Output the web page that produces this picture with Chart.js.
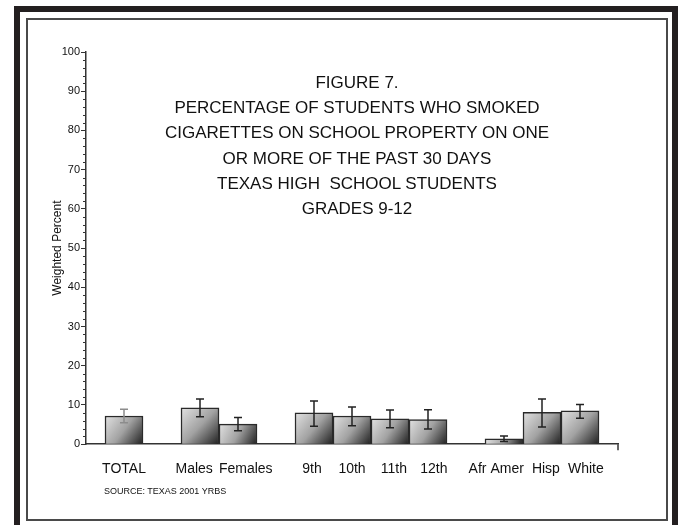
<!DOCTYPE html>
<html>
<head>
<meta charset="utf-8">
<script src="https://cdn.jsdelivr.net/npm/chart.js@4/dist/chart.umd.min.js"></script>
<style>
html,body{margin:0;padding:0;background:#fff;width:678px;height:525px;overflow:hidden;font-family:"Liberation Sans",Arial,sans-serif;}
#outer{position:absolute;left:14px;top:6px;width:652px;height:540px;border:6px solid #231f20;border-bottom:none;}
#inner{position:absolute;left:26px;top:18px;width:638px;height:499px;border:2px solid #4a4a4a;}
#chart{position:absolute;left:0;top:0;}
#title{position:absolute;left:157px;width:400px;top:70px;text-align:center;font-size:17px;line-height:25.2px;color:#111;}
#source{position:absolute;left:104px;top:485px;font-size:9px;line-height:12px;color:#111;}
</style>
</head>
<body>
<div id="outer"></div>
<div id="inner"></div>
<canvas id="chart" width="678" height="525"></canvas>
<div id="title"></div>
<div id="source"></div>
<script>
// ---- data ----
const titleLines = ["FIGURE 7.", "PERCENTAGE OF STUDENTS WHO SMOKED", "CIGARETTES ON SCHOOL PROPERTY ON ONE", "OR MORE OF THE PAST 30 DAYS", "TEXAS HIGH  SCHOOL STUDENTS", "GRADES 9-12"];
const sourceText = "SOURCE: TEXAS 2001 YRBS";
const yAxisTitle = "Weighted Percent";
const groups = [["TOTAL"], ["Males", "Females"], ["9th", "10th", "11th", "12th"], ["Afr Amer", "Hisp", "White"]];
const percent = [7.2, 9.3, 5.1, 8.0, 7.2, 6.5, 6.3, 1.4, 8.1, 8.5];
const ciLow   = [5.5, 7.0, 3.4, 4.6, 4.7, 4.2, 3.9, 0.7, 4.4, 6.6];
const ciHigh  = [8.9, 11.5, 6.8, 11.0, 9.5, 8.7, 8.8, 2.1, 11.5, 10.1];
const yTicks = [0, 10, 20, 30, 40, 50, 60, 70, 80, 90, 100];
const yMinorStep = 2;

document.getElementById('title').innerHTML = titleLines.map(t => t.replace(/  /g, ' &nbsp;')).join('<br>');
document.getElementById('source').textContent = sourceText;

// build slot table: a blank slot before, between and after groups
const labels = [], values = [], lows = [], highs = [];
let k = 0;
groups.forEach(g => {
  labels.push(''); values.push(null); lows.push(null); highs.push(null);
  g.forEach(name => {
    labels.push(name); values.push(percent[k]); lows.push(ciLow[k]); highs.push(ciHigh[k]); k++;
  });
});
labels.push(''); values.push(null); lows.push(null); highs.push(null);

const FONT = "'Liberation Sans', Arial, sans-serif";
const errColorFirst = '#8c8c8c', errColor = '#222';
// small horizontal nudges (px) of tick labels, as in the original layout
const labelNudge = { "Males": -5, "Females": 8, "9th": -2, "11th": 4, "12th": 6, "Afr Amer": -8, "Hisp": 4, "White": 6 };
function nudged(lbl) {
  const s = labelNudge[lbl];
  if (!s) return lbl;
  const n = Math.round(Math.abs(s) / 1.95);
  const pad = ' '.repeat(n);
  return s < 0 ? lbl + pad : pad + lbl;
}

function barFill(ctx) {
  const chart = ctx.chart;
  if (!chart.chartArea || !chart.scales.x || ctx.raw == null) return '#999';
  const xs = chart.scales.x, ys = chart.scales.y;
  const cx = xs.getPixelForValue(ctx.dataIndex);
  const half = 19;
  const top = ys.getPixelForValue(ctx.raw), bot = ys.getPixelForValue(0);
  const g = chart.ctx.createLinearGradient(cx - half, top, cx + half, bot);
  g.addColorStop(0, '#e2e2e2');
  g.addColorStop(0.5, '#a2a2a2');
  g.addColorStop(1, '#1e1e1e');
  return g;
}

const extras = {
  id: 'extras',
  afterDatasetsDraw(chart) {
    const c = chart.ctx, ys = chart.scales.y;
    const meta = chart.getDatasetMeta(0);
    c.save();
    c.lineWidth = 1.5;
    let first = true;
    meta.data.forEach((el, i) => {
      if (values[i] == null) return;
      const x = el.x;
      const yl = ys.getPixelForValue(lows[i]), yh = ys.getPixelForValue(highs[i]);
      c.strokeStyle = first ? errColorFirst : errColor;
      first = false;
      c.beginPath();
      c.moveTo(x, yl); c.lineTo(x, yh);
      c.moveTo(x - 4, yl); c.lineTo(x + 4, yl);
      c.moveTo(x - 4, yh); c.lineTo(x + 4, yh);
      c.stroke();
    });
    c.restore();
  },
  afterDraw(chart) {
    const c = chart.ctx, ys = chart.scales.y, a = chart.chartArea;
    c.save();
    c.strokeStyle = '#333';
    c.lineWidth = 1;
    for (let v = ys.min; v <= ys.max; v += yMinorStep) {
      if (yTicks.includes(v)) continue;
      const y = Math.round(ys.getPixelForValue(v)) + 0.5;
      c.beginPath(); c.moveTo(a.left - 3, y); c.lineTo(a.left, y); c.stroke();
    }
    c.lineWidth = 1.5;
    c.beginPath(); c.moveTo(a.right, a.bottom); c.lineTo(a.right, a.bottom + 6); c.stroke();
    c.restore();
  }
};

new Chart(document.getElementById('chart'), {
  type: 'bar',
  data: {
    labels: labels,
    datasets: [{
      data: values,
      backgroundColor: barFill,
      borderColor: '#2a2a2a',
      borderWidth: 1.5,
      categoryPercentage: 1,
      barPercentage: 1
    }]
  },
  options: {
    responsive: false,
    animation: false,
    layout: { padding: { left: 46, right: 60, top: 52, bottom: 38 } },
    plugins: { legend: { display: false }, tooltip: { enabled: false }, title: { display: false } },
    scales: {
      x: {
        type: 'category',
        offset: false,
        grid: { display: false },
        border: { color: '#333', width: 1.5 },
        ticks: { color: '#111', font: { size: 14, family: FONT }, padding: 9, maxRotation: 0, autoSkip: false,
                 callback: function (v) { return nudged(this.getLabelForValue(v)); } }
      },
      y: {
        min: 0, max: 100,
        afterBuildTicks: s => { s.ticks = yTicks.map(v => ({ value: v })); },
        grid: { drawOnChartArea: false, tickLength: 5, color: '#333' },
        border: { color: '#333', width: 1.5 },
        ticks: { padding: 1, color: '#111', font: { size: 11, family: FONT } },
        title: { display: true, text: yAxisTitle, color: '#111', font: { size: 12, family: FONT }, padding: { top: 4, bottom: 0 } },
        afterFit: s => { s.width = 40; }
      }
    }
  },
  plugins: [extras]
});
</script>
</body>
</html>
